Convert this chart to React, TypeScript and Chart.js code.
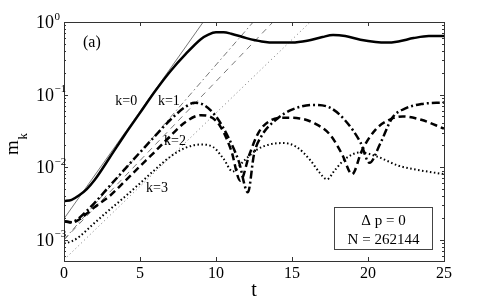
import React, { useEffect, useRef } from 'react';
import { Chart, registerables } from 'chart.js';

Chart.register(...registerables);

// ---- data ----
const T_K0 = [0, 0.5, 1, 1.5, 2, 3, 4, 5, 6, 7, 8, 9, 9.5, 10, 10.5, 11, 12, 13, 14, 15, 16, 17, 17.7, 18.5, 19.5, 20.5, 21.2, 22, 23, 24, 25];
const M_K0 = [3.4e-3, 3.55e-3, 4.1e-3, 5.0e-3, 6.6e-3, 1.35e-2, 2.8e-2, 5.6e-2, 0.112, 0.21, 0.36, 0.58, 0.67, 0.72, 0.72, 0.69, 0.6, 0.54, 0.52, 0.52, 0.55, 0.62, 0.66, 0.64, 0.57, 0.53, 0.52, 0.54, 0.6, 0.64, 0.64];

const T_K1 = [0, 0.5, 1, 1.5, 2, 3, 4, 5, 6, 7, 8, 8.6, 9.2, 10, 10.8, 11.5, 12.1, 12.5, 13, 14, 15, 16.4, 17.5, 18.5, 19.5, 20.1, 20.8, 21.6, 22.5, 23.5, 25];
const M_K1 = [1.8e-3, 1.75e-3, 2.0e-3, 2.5e-3, 3.2e-3, 5.5e-3, 9.4e-3, 1.6e-2, 2.7e-2, 4.5e-2, 6.8e-2, 7.7e-2, 7.2e-2, 5.0e-2, 2.6e-2, 1.2e-2, 4.5e-3, 1.5e-2, 2.7e-2, 4.6e-2, 6.2e-2, 7.2e-2, 6.6e-2, 4.4e-2, 2.2e-2, 1.15e-2, 2.1e-2, 4.8e-2, 6.5e-2, 7.4e-2, 7.8e-2];

const T_K2 = [0, 0.5, 1, 1.5, 2, 3, 4, 5, 6, 7, 8, 9, 9.6, 10.3, 11, 11.6, 12.2, 12.8, 13.5, 14.5, 15.5, 16.5, 17.5, 18.3, 18.95, 19.6, 20.5, 21.5, 22.3, 23.5, 25];
const M_K2 = [1.8e-3, 1.72e-3, 1.9e-3, 2.3e-3, 2.8e-3, 4.0e-3, 6.4e-3, 1.03e-2, 1.65e-2, 2.7e-2, 4.2e-2, 5.2e-2, 5.0e-2, 3.6e-2, 1.7e-2, 6.5e-3, 1.5e-2, 3.0e-2, 4.3e-2, 4.8e-2, 4.7e-2, 4.0e-2, 2.8e-2, 1.5e-2, 8.0e-3, 1.7e-2, 3.3e-2, 4.6e-2, 5.0e-2, 4.5e-2, 3.4e-2];

const T_K3 = [0, 0.5, 1, 2, 3, 4, 5, 6, 7, 8, 9, 9.8, 10.5, 11.1, 11.8, 12.7, 13.5, 14.4, 15.3, 16.2, 16.8, 17.3, 17.8, 18.5, 19.5, 20.6, 22, 23.5, 25];
const M_K3 = [9e-4, 9.5e-4, 1.1e-3, 1.7e-3, 2.6e-3, 3.9e-3, 6.0e-3, 9.3e-3, 1.4e-2, 1.85e-2, 2.05e-2, 1.9e-2, 1.3e-2, 8.7e-3, 1.2e-2, 1.75e-2, 2.05e-2, 2.15e-2, 1.9e-2, 1.25e-2, 8.5e-3, 6.8e-3, 9e-3, 1.3e-2, 1.6e-2, 1.4e-2, 1.05e-2, 9e-3, 8e-3];

// thin reference lines (linear growth), given by their end points
const T_LIN0 = [0, 9.16];
const M_LIN0 = [1.95e-3, 1.0];
const T_LIN1 = [0, 12.45];
const M_LIN1 = [1.0e-3, 1.0];
const T_LIN2 = [0, 13.75];
const M_LIN2 = [1.0e-3, 1.0];
const T_LIN3 = [0, 16.2];
const M_LIN3 = [5.3e-4, 1.0];

const X_TICKS = [0, 5, 10, 15, 20, 25];
const Y_DECADES = [0, -1, -2, -3];
const Y_MIN = 5.1e-4;
const Y_MAX = 1;
const X_MIN = 0;
const X_MAX = 25;

const CURVE_LABELS = [
  { text: 'k=0', t: 4.1, m: 0.082 },
  { text: 'k=1', t: 6.9, m: 0.082 },
  { text: 'k=2', t: 7.3, m: 0.0227 },
  { text: 'k=3', t: 6.12, m: 0.0051 },
];
const PANEL_LABEL = '(a)';
const BOX_LINES = ['\u0394 p = 0', 'N = 262144'];

const SERIF = "'Liberation Serif', 'Times New Roman', serif";

function pts(t: number[], m: number[]) {
  return t.map((v, i) => ({ x: v, y: m[i] }));
}

const decorPlugin = {
  id: 'decor',
  afterDraw(chart: any) {
    const ctx = chart.ctx as CanvasRenderingContext2D;
    const xs = chart.scales.x;
    const ys = chart.scales.y;
    const { left, right, top, bottom } = chart.chartArea;
    ctx.save();
    // frame
    ctx.strokeStyle = '#333';
    ctx.lineWidth = 1;
    ctx.strokeRect(Math.round(left) + 0.5, Math.round(top) + 0.5, Math.round(right - left), Math.round(bottom - top));
    // x ticks (bottom and top, inward)
    ctx.beginPath();
    X_TICKS.forEach((v) => {
      const px = Math.round(xs.getPixelForValue(v)) + 0.5;
      ctx.moveTo(px, bottom);
      ctx.lineTo(px, bottom - 4);
      ctx.moveTo(px, top);
      ctx.lineTo(px, top + 4);
    });
    // y ticks: majors and minors, left and right
    for (let d = -4; d <= 0; d++) {
      for (let k = 1; k <= 9; k++) {
        const v = k * Math.pow(10, d);
        if (v < Y_MIN || v > Y_MAX) continue;
        const py = Math.round(ys.getPixelForValue(v)) + 0.5;
        const len = k === 1 ? 4 : 2;
        ctx.moveTo(left, py);
        ctx.lineTo(left + len, py);
        ctx.moveTo(right, py);
        ctx.lineTo(right - len, py);
      }
    }
    ctx.stroke();

    // y tick labels 10^n
    ctx.fillStyle = '#000';
    Y_DECADES.forEach((n) => {
      const py = ys.getPixelForValue(Math.pow(10, n));
      ctx.font = `18px ${SERIF}`;
      ctx.textAlign = 'right';
      ctx.textBaseline = 'alphabetic';
      ctx.fillText('10', left - 10, py + 6);
      ctx.font = `11px ${SERIF}`;
      ctx.textAlign = 'left';
      ctx.fillText(n === 0 ? '0' : '\u2212' + String(-n), left - 9.5, py - 2.5);
    });

    // x axis title
    ctx.font = `20px ${SERIF}`;
    ctx.textAlign = 'center';
    ctx.textBaseline = 'alphabetic';
    ctx.fillText('t', (left + right) / 2, 296);

    // y axis title m_k (rotated)
    ctx.save();
    ctx.translate(18, 155);
    ctx.rotate(-Math.PI / 2);
    ctx.textAlign = 'left';
    ctx.font = `19px ${SERIF}`;
    ctx.fillText('m', 0, 0);
    ctx.font = `13px ${SERIF}`;
    ctx.fillText('k', 15.5, 9);
    ctx.restore();

    // panel label
    ctx.font = `16px ${SERIF}`;
    ctx.textAlign = 'left';
    ctx.fillText(PANEL_LABEL, 83, 47);

    // curve labels
    ctx.font = `14px ${SERIF}`;
    ctx.textAlign = 'center';
    ctx.textBaseline = 'middle';
    CURVE_LABELS.forEach((l) => {
      ctx.fillText(l.text, xs.getPixelForValue(l.t), ys.getPixelForValue(l.m));
    });

    // annotation box
    const bx = 334.5, by = 207.5, bw = 98, bh = 42;
    ctx.fillStyle = '#fff';
    ctx.fillRect(bx, by, bw, bh);
    ctx.strokeStyle = '#444';
    ctx.strokeRect(bx, by, bw, bh);
    ctx.fillStyle = '#000';
    ctx.font = `15px ${SERIF}`;
    ctx.textBaseline = 'alphabetic';
    ctx.fillText(BOX_LINES[0], bx + bw / 2, by + 17);
    ctx.fillText(BOX_LINES[1], bx + bw / 2, by + 36);
    ctx.restore();
  },
};

export default function App() {
  const ref = useRef<HTMLCanvasElement | null>(null);
  useEffect(() => {
    if (!ref.current) return;
    const thin = (t: number[], m: number[], dash: number[]) => ({
      data: pts(t, m),
      borderColor: '#555',
      borderWidth: 0.8,
      borderDash: dash,
      pointRadius: 0,
      fill: false,
      order: 2,
    });
    const thick = (t: number[], m: number[], dash: number[], w: number) => ({
      data: pts(t, m),
      borderColor: '#000',
      borderWidth: w,
      borderDash: dash,
      pointRadius: 0,
      fill: false,
      cubicInterpolationMode: 'monotone' as const,
      order: 1,
    });
    const chart = new Chart(ref.current, {
      type: 'line',
      data: {
        datasets: [
          thin(T_LIN0, M_LIN0, []),
          thin(T_LIN1, M_LIN1, [6, 3, 1.5, 3]),
          thin(T_LIN2, M_LIN2, [6, 5]),
          thin(T_LIN3, M_LIN3, [1, 3]),
          thick(T_K0, M_K0, [], 2.5),
          thick(T_K1, M_K1, [8, 3, 2, 3], 2.5),
          thick(T_K2, M_K2, [7, 4], 2.5),
          thick(T_K3, M_K3, [1.5, 2.5], 2),
        ] as any,
      },
      options: {
        animation: false,
        responsive: false,
        devicePixelRatio: 1,
        layout: { padding: { top: 22, right: 47, left: 0, bottom: 0 } },
        plugins: { legend: { display: false }, tooltip: { enabled: false } },
        scales: {
          x: {
            type: 'linear',
            min: X_MIN,
            max: X_MAX,
            grid: { display: false, drawTicks: false },
            border: { display: false },
            ticks: {
              stepSize: 5,
              padding: 3,
              color: '#000',
              font: { family: SERIF, size: 16 },
              maxRotation: 0,
            },
            afterFit: (s: any) => {
              s.height = 40;
            },
          },
          y: {
            type: 'logarithmic',
            min: Y_MIN,
            max: Y_MAX,
            grid: { display: false, drawTicks: false },
            border: { display: false },
            ticks: { display: false },
            afterFit: (s: any) => {
              s.width = 64;
            },
          },
        },
      } as any,
      plugins: [decorPlugin],
    });
    return () => chart.destroy();
  }, []);
  return (
    <div style={{ position: 'absolute', left: 0, top: 0, width: 491, height: 301, background: '#fff' }}>
      <canvas ref={ref} width={491} height={301} />
    </div>
  );
}
